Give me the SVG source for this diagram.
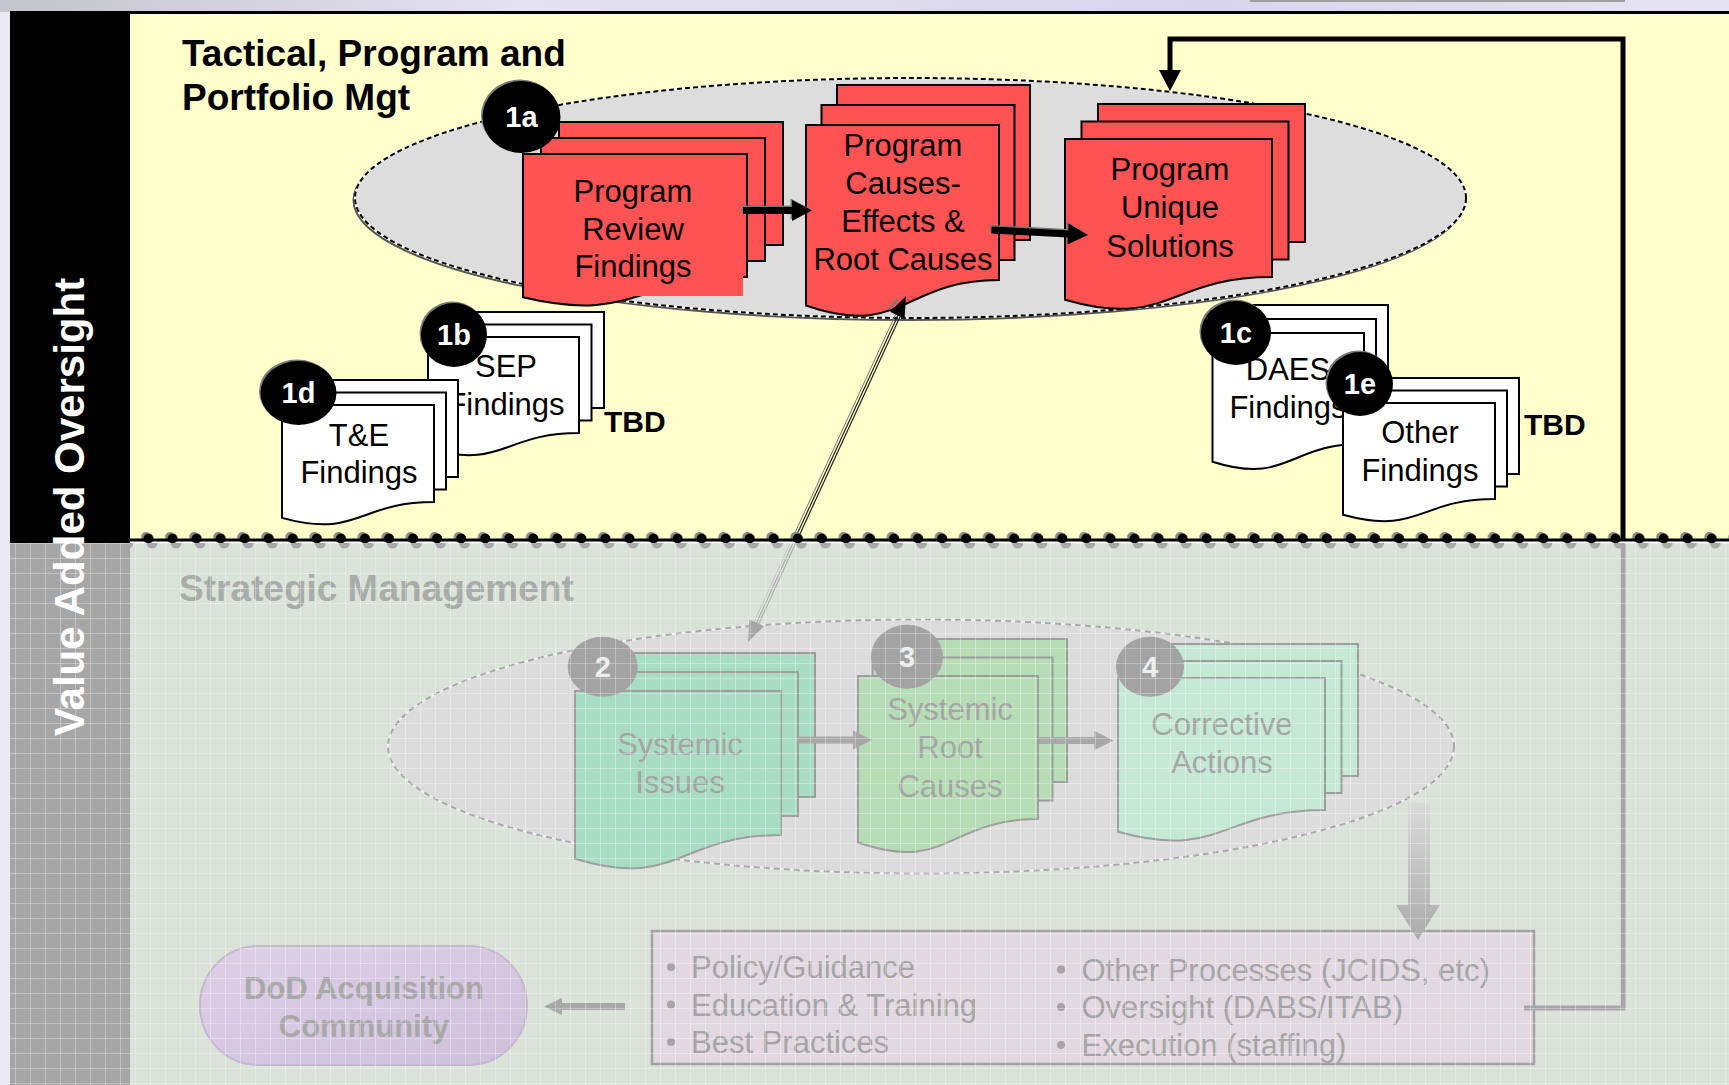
<svg xmlns="http://www.w3.org/2000/svg" width="1729" height="1085" viewBox="0 0 1729 1085">
<defs>
<style>
.red{fill:#FF5353;stroke:#000;stroke-width:2}
.wht{fill:#FFFFFF;stroke:#000;stroke-width:2}
.grn2{fill:#A9DDC3;stroke:#9E9E9E;stroke-width:2}
.grn3{fill:#B7DDB6;stroke:#9E9E9E;stroke-width:2}
.grn4{fill:#C5E9D5;stroke:#9E9E9E;stroke-width:2}
.txt{font-family:"Liberation Sans",Arial,sans-serif;font-size:31px;text-anchor:middle;fill:#000}
.ftxt{font-family:"Liberation Sans",Arial,sans-serif;font-size:31px;text-anchor:middle;fill:#A5A5A5}
.lbl{font-family:"Liberation Sans",Arial,sans-serif;font-size:29px;font-weight:bold;text-anchor:middle;fill:#FFFFFF}
.flbl{font-family:"Liberation Sans",Arial,sans-serif;font-size:29px;font-weight:bold;text-anchor:middle;fill:#EDEDED}
.bdg{fill:#000}
.bdgs{fill:#7A7A7A}
.fbdg{fill:#A3A3A3}
.head{font-family:"Liberation Sans",Arial,sans-serif;font-size:37px;font-weight:bold}
.tbd{font-family:"Liberation Sans",Arial,sans-serif;font-size:30px;font-weight:bold;fill:#000}
.list{font-family:"Liberation Sans",Arial,sans-serif;font-size:31px;fill:#A5A5A5}
.dod{font-family:"Liberation Sans",Arial,sans-serif;font-size:31px;font-weight:bold;text-anchor:middle;fill:#A8A8A8}
</style>
<pattern id="grid" patternUnits="userSpaceOnUse" x="0" y="543" width="15" height="15">
<path d="M0.5 0V15M0 0.5H15" stroke="#FFFFFF" stroke-opacity="0.3" stroke-width="1" fill="none"/>
</pattern>
<pattern id="bumps" patternUnits="userSpaceOnUse" x="136" y="530" width="24.05" height="22">
<circle cx="10" cy="7" r="5" fill="#8A8A8A"/>
<circle cx="12.5" cy="8.5" r="5" fill="#000"/>
<path d="M10.5 13a5.5 5.5 0 0 0 11 0z" fill="#A9A9A9"/>
</pattern>
<linearGradient id="topg" x1="0" y1="0" x2="1" y2="0">
<stop offset="0" stop-color="#C4C4CE"/>
<stop offset="0.3" stop-color="#E4E2EE"/>
<stop offset="0.7" stop-color="#D9D5EC"/>
<stop offset="1" stop-color="#E6E4F2"/>
</linearGradient>
<linearGradient id="downg" x1="0" y1="0" x2="0" y2="1">
<stop offset="0" stop-color="#DADADA"/>
<stop offset="1" stop-color="#ABABAB"/>
</linearGradient>
<linearGradient id="dodg" x1="0" y1="0" x2="1" y2="1">
<stop offset="0" stop-color="#DDD0E6"/>
<stop offset="1" stop-color="#CFC0DC"/>
</linearGradient>
</defs>

<g id="background">
<rect x="0" y="0" width="1729" height="1085" fill="#ECE9F3"/>
<rect x="0" y="0" width="1729" height="12" fill="url(#topg)"/>
<rect x="1250" y="0" width="375" height="2" fill="#A0A0A0"/>
<rect x="130" y="12" width="1599" height="530" fill="#FFFFCC"/>
<rect x="130" y="543" width="1599" height="542" fill="#D9E3D8"/>
<rect x="10" y="11" width="120" height="532" fill="#000"/>
<rect x="10" y="543" width="120" height="542" fill="#A6A6A6"/>
<rect x="10" y="11" width="1719" height="3" fill="#000"/>
<text transform="translate(84,507) rotate(-90)" font-family="Liberation Sans, Arial, sans-serif" font-size="42" font-weight="bold" text-anchor="middle" fill="#FFFFFF">Value Added Oversight</text>
<text class="head" x="182" y="66" fill="#000">Tactical, Program and</text>
<text class="head" x="182" y="110" fill="#000">Portfolio Mgt</text>
<text class="head" x="179" y="601" fill="#A9ACA9">Strategic Management</text>
</g>

<g id="group-tactical">
<ellipse cx="909" cy="200" rx="555.5" ry="120" fill="none" stroke="#555" stroke-width="2"/>
<ellipse cx="910.5" cy="198" rx="555.5" ry="120" fill="#DDDDDD" stroke="#FFFFFF" stroke-width="2"/>
<ellipse cx="910.5" cy="198" rx="555.5" ry="120" fill="none" stroke="#000" stroke-width="2" stroke-dasharray="5 3"/>
</g>

<g id="group-strategic">
<ellipse cx="921" cy="746.5" rx="533" ry="127" fill="#DCDCDC" stroke="#F0F0F0" stroke-width="2"/>
<ellipse cx="921" cy="746.5" rx="533" ry="127" fill="none" stroke="#A8A8A8" stroke-width="2" stroke-dasharray="6 4"/>
</g>

<g id="node-1a">
<rect class="red" x="559" y="122" width="224" height="123"/>
<rect class="red" x="541" y="138" width="224" height="123"/>
<path class="red" d="M523 154H747V277C635 277 635 323.9 523 297.3Z"/>
<rect x="524.5" y="156" width="218.5" height="140" fill="#FF5353"/>
<text class="txt"><tspan x="633" y="201.7">Program</tspan><tspan x="633" y="240">Review</tspan><tspan x="633" y="277.3">Findings</tspan></text>
<ellipse class="bdgs" cx="520" cy="115.5" rx="39" ry="36"/>
<ellipse class="bdg" cx="521.5" cy="117" rx="39" ry="36"/>
<text class="lbl" x="521.5" y="127">1a</text>
</g>

<g id="node-causes">
<rect class="red" x="837" y="85" width="193" height="155"/>
<rect class="red" x="821.5" y="105" width="193" height="155"/>
<path class="red" d="M806 125H999V280C902.5 280 902.5 339.1 806 305.5Z"/>
<text class="txt"><tspan x="903" y="156">Program</tspan><tspan x="903" y="194">Causes-</tspan><tspan x="903" y="232.3">Effects &amp;</tspan><tspan x="903" y="270">Root Causes</tspan></text>
</g>

<g id="node-solutions">
<rect class="red" x="1098" y="104" width="207" height="138"/>
<rect class="red" x="1081.5" y="121.5" width="207" height="138"/>
<path class="red" d="M1065 139H1272V277C1168.5 277 1168.5 329.6 1065 299.7Z"/>
<text class="txt"><tspan x="1170" y="180">Program</tspan><tspan x="1170" y="218.3">Unique</tspan><tspan x="1170" y="256.7">Solutions</tspan></text>
</g>

<g id="node-1b">
<rect class="wht" x="453" y="312" width="151" height="96"/>
<rect class="wht" x="440.5" y="324.5" width="151" height="96"/>
<path class="wht" d="M428 337H579V433C503.5 433 503.5 469.6 428 448.8Z"/>
<text class="txt"><tspan x="506" y="377">SEP</tspan><tspan x="506" y="415">Findings</tspan></text>
<ellipse class="bdgs" cx="452.5" cy="333.5" rx="33" ry="32"/>
<ellipse class="bdg" cx="454" cy="335" rx="33" ry="32"/>
<text class="lbl" x="454" y="345">1b</text>
<text class="tbd" x="604" y="432">TBD</text>
</g>

<g id="node-1d">
<rect class="wht" x="306" y="380" width="152" height="97"/>
<rect class="wht" x="294" y="392.5" width="152" height="97"/>
<path class="wht" d="M282 405H434V502C358 502 358 538.9 282 517.9Z"/>
<text class="txt"><tspan x="359" y="445.7">T&amp;E</tspan><tspan x="359" y="483.3">Findings</tspan></text>
<ellipse class="bdgs" cx="297" cy="391.5" rx="38" ry="32"/>
<ellipse class="bdg" cx="298.5" cy="393" rx="38" ry="32"/>
<text class="lbl" x="298.5" y="403">1d</text>
</g>

<g id="node-1c">
<rect class="wht" x="1236.5" y="305" width="151.5" height="110.5"/>
<rect class="wht" x="1224.5" y="319" width="151.5" height="110.5"/>
<path class="wht" d="M1212.5 333H1364V443.5C1288.25 443.5 1288.25 485.6 1212.5 461.7Z"/>
<text class="txt"><tspan x="1288" y="380">DAES</tspan><tspan x="1288" y="418.3">Findings</tspan></text>
<ellipse class="bdgs" cx="1234.5" cy="331.5" rx="35" ry="32"/>
<ellipse class="bdg" cx="1236" cy="333" rx="35" ry="32"/>
<text class="lbl" x="1236" y="343">1c</text>
</g>

<g id="node-1e">
<rect class="wht" x="1367" y="378" width="152" height="96"/>
<rect class="wht" x="1355" y="390.5" width="152" height="96"/>
<path class="wht" d="M1343 403H1495V499C1419 499 1419 535.6 1343 514.8Z"/>
<text class="txt"><tspan x="1420" y="442.7">Other</tspan><tspan x="1420" y="481">Findings</tspan></text>
<ellipse class="bdgs" cx="1358.5" cy="382.5" rx="33" ry="32"/>
<ellipse class="bdg" cx="1360" cy="384" rx="33" ry="32"/>
<text class="lbl" x="1360" y="394">1e</text>
<text class="tbd" x="1524" y="435">TBD</text>
</g>

<g id="node-2">
<rect class="grn2" x="609" y="653" width="206" height="144"/>
<rect class="grn2" x="592" y="672" width="206" height="144"/>
<path class="grn2" d="M575 691H781V835C678 835 678 889.9 575 858.7Z"/>
<text class="ftxt"><tspan x="680" y="755">Systemic</tspan><tspan x="680" y="793.3">Issues</tspan></text>
<ellipse class="fbdg" cx="602.7" cy="666.7" rx="35" ry="30"/>
<text class="flbl" x="602.7" y="677">2</text>
</g>

<g id="node-3">
<rect class="grn3" x="887" y="639" width="180" height="143"/>
<rect class="grn3" x="872.5" y="657.5" width="180" height="143"/>
<path class="grn3" d="M858 676H1038V819C948 819 948 873.5 858 842.5Z"/>
<text class="ftxt"><tspan x="950" y="720">Systemic</tspan><tspan x="950" y="758.3">Root</tspan><tspan x="950" y="796.7">Causes</tspan></text>
<ellipse class="fbdg" cx="907" cy="656.7" rx="36" ry="32"/>
<text class="flbl" x="907" y="667">3</text>
</g>

<g id="node-4">
<rect class="grn4" x="1151" y="644" width="207" height="132"/>
<rect class="grn4" x="1134.5" y="661" width="207" height="132"/>
<path class="grn4" d="M1118 678H1325V810C1221.5 810 1221.5 860.3 1118 831.7Z"/>
<text class="ftxt"><tspan x="1222" y="735">Corrective</tspan><tspan x="1222" y="773.3">Actions</tspan></text>
<ellipse class="fbdg" cx="1150" cy="666.7" rx="34" ry="30"/>
<text class="flbl" x="1150" y="677">4</text>
</g>

<g id="node-actions-box">
<rect x="652" y="931" width="882" height="133" fill="#E2D8E2" stroke="#A2A2A2" stroke-width="2.5"/>
<circle cx="671" cy="967" r="4" fill="#A5A5A5"/>
<circle cx="671" cy="1004.5" r="4" fill="#A5A5A5"/>
<circle cx="671" cy="1042" r="4" fill="#A5A5A5"/>
<text class="list" x="691" y="978">Policy/Guidance</text>
<text class="list" x="691" y="1015.5">Education &amp; Training</text>
<text class="list" x="691" y="1053">Best Practices</text>
<circle cx="1061" cy="969.5" r="4" fill="#A5A5A5"/>
<circle cx="1061" cy="1007" r="4" fill="#A5A5A5"/>
<circle cx="1061" cy="1045" r="4" fill="#A5A5A5"/>
<text class="list" x="1081.5" y="980.5">Other Processes (JCIDS, etc)</text>
<text class="list" x="1081.5" y="1018">Oversight (DABS/ITAB)</text>
<text class="list" x="1081.5" y="1056">Execution (staffing)</text>
</g>

<g id="node-dod">
<rect x="200" y="946" width="327" height="119" rx="58" ry="60" fill="url(#dodg)" stroke="#C6B8D2" stroke-width="2"/>
<text class="dod" x="364" y="999">DoD Acquisition</text>
<text class="dod" x="364" y="1036.5">Community</text>
</g>

<g id="connectors">
<g transform="translate(743,210.5)">
<polygon points="-1.5,-5 47.5,-5 47.5,-12 67.5,-1.5 47.5,9 47.5,2 -1.5,2" fill="#777"/>
<polygon points="0,-3.5 49,-3.5 49,-10.5 69,0 49,10.5 49,3.5 0,3.5" fill="#000"/>
</g>
<g transform="translate(991.5,230) rotate(2.97)">
<polygon points="-1.5,-5 75,-5 75,-12 95,-1.5 75,9 75,2 -1.5,2" fill="#777"/>
<polygon points="0,-3.5 76.6,-3.5 76.6,-10.5 96.6,0 76.6,10.5 76.6,3.5 0,3.5" fill="#000"/>
</g>
<path d="M1623 540V39H1170V72" fill="none" stroke="#000" stroke-width="5"/>
<polygon points="1159,70 1181,70 1170,91" fill="#000"/>
<path d="M1524 1008H1623V543" fill="none" stroke="#A6A6A6" stroke-width="5"/>
<line x1="792.1" y1="539" x2="896.7" y2="312" stroke="#777" stroke-width="1"/>
<line x1="794.4" y1="540" x2="899" y2="313" stroke="#222" stroke-width="1.2"/>
<line x1="796.7" y1="541" x2="901.3" y2="314" stroke="#222" stroke-width="1.2"/>
<line x1="753.7" y1="622.9" x2="792.1" y2="539" stroke="#C4C4C4" stroke-width="1"/>
<line x1="756" y1="624" x2="794.4" y2="540" stroke="#B0B0B0" stroke-width="1.2"/>
<line x1="758.3" y1="625" x2="796.7" y2="541" stroke="#B0B0B0" stroke-width="1.2"/>
<polygon points="906,296 904.5,318.4 889.9,311.8" fill="#000"/>
<line x1="889" y1="309" x2="898" y2="299" stroke="#777" stroke-width="2"/>
<polygon points="748,642 764.1,626.2 749.5,619.6" fill="#A6A6A6"/>
<polygon points="798,736.5 853,736.5 853,730.5 872.5,740 853,749.5 853,743.5 798,743.5" fill="#A8A8A8"/>
<polygon points="1039,737 1094.5,737 1094.5,731 1113.6,740.5 1094.5,750 1094.5,744 1039,744" fill="#A8A8A8"/>
<polygon points="1408,803 1430,803 1430,905 1440,905 1418,940 1396,905 1408,905" fill="url(#downg)"/>
<polygon points="625,1003 562,1003 562,998 544,1006.5 562,1015 562,1010 625,1010" fill="#A8A8A8"/>
</g>

<g id="overlay">
<rect x="10" y="543" width="1719" height="542" fill="url(#grid)"/>
</g>

<g id="divider">
<rect x="130" y="541.5" width="1599" height="1.5" fill="#FFFFFF"/>
<rect x="130" y="530" width="1599" height="22" fill="url(#bumps)"/>
<rect x="130" y="538.5" width="1599" height="3" fill="#000"/>
</g>
</svg>
